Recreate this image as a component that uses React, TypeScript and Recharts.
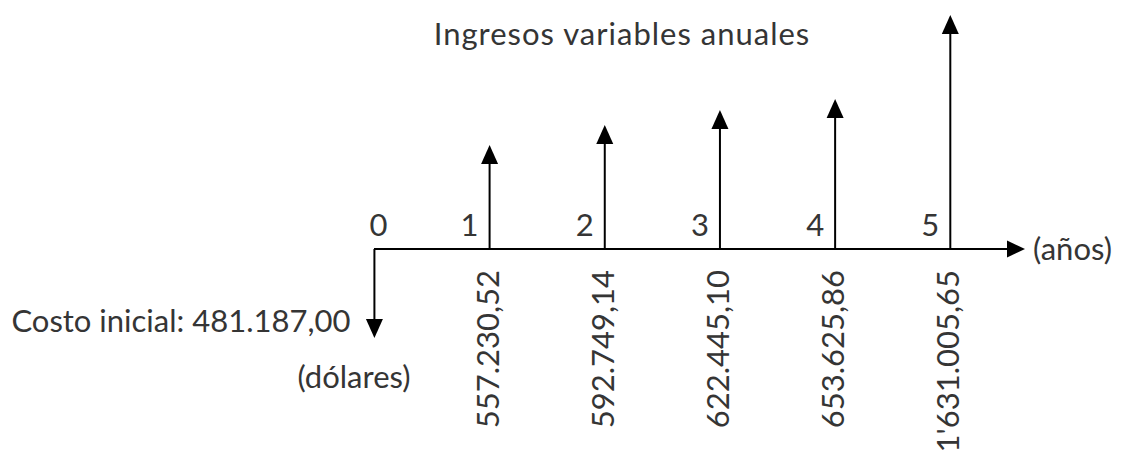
import React from "react"
import {
  ComposedChart,
  Bar,
  XAxis,
  YAxis,
  ReferenceLine,
  ReferenceDot,
  LabelList,
  Label,
} from "recharts"

// cash flow diagram: period 0 is the initial cost, 1..5 are the yearly incomes
const periods = [0, 1, 2, 3, 4, 5]
const periodLabels = ["0", "1", "2", "3", "4", "5"]
const amountLabels = [
  "481.187,00",
  "557.230,52",
  "592.749,14",
  "622.445,10",
  "653.625,86",
  "1'631.005,65",
]
// arrow lengths as drawn in the diagram (schematic, not to scale)
const arrowLengths = [-89, 104, 124, 139, 150, 234]

const data = periods.map((p, i) => ({
  period: p,
  label: periodLabels[i],
  amount: amountLabels[i],
  length: arrowLengths[i],
}))

const FONT = "Lato, 'Open Sans', sans-serif"
const TEXT = "#353535"
const LINE = "#000"
const FONT_SIZE = 31

// bar rect -> vertical arrow starting at the axis
function ArrowShape(props: any) {
  const { x, y, width, height, payload } = props
  const cx = x + width / 2
  const top = Math.min(y, y + height)
  const bottom = Math.max(y, y + height)
  const head = 19
  const half = 8.5

  if (payload.length < 0) {
    return (
      <g>
        <line x1={cx} y1={top} x2={cx} y2={bottom - head + 2} stroke={LINE} strokeWidth={2} />
        <polygon
          points={`${cx - half},${bottom - head} ${cx + half},${bottom - head} ${cx},${bottom}`}
          fill={LINE}
        />
      </g>
    )
  }
  return (
    <g>
      <line x1={cx} y1={bottom} x2={cx} y2={top + head - 2} stroke={LINE} strokeWidth={2} />
      <polygon
        points={`${cx - half},${top + head} ${cx + half},${top + head} ${cx},${top}`}
        fill={LINE}
      />
    </g>
  )
}

function getBox(props: any) {
  const vb = props.viewBox || props
  const cx = vb.x + vb.width / 2
  const top = Math.min(vb.y, vb.y + vb.height)
  const bottom = Math.max(vb.y, vb.y + vb.height)
  return { cx, top, bottom }
}

// period number, sits just above the axis, left of the arrow
function PeriodLabel(props: any) {
  const { value, index } = props
  const { cx, top, bottom } = getBox(props)
  const neg = arrowLengths[index] < 0
  const axisY = neg ? top : bottom
  return (
    <text
      x={neg ? cx + 4 : cx - 20}
      y={axisY - 13}
      textAnchor="middle"
      fontFamily={FONT}
      fontSize={FONT_SIZE}
      fill={TEXT}
    >
      {value}
    </text>
  )
}

// amounts: rotated under the axis for incomes, horizontal for the initial cost
function AmountLabel(props: any) {
  const { value, index } = props
  const { cx, bottom } = getBox(props)
  if (arrowLengths[index] < 0) {
    return (
      <text
        x={cx - 24}
        y={bottom - 6}
        textAnchor="end"
        fontFamily={FONT}
        fontSize={FONT_SIZE}
        fill={TEXT}
      >
        {"Costo inicial: " + value}
      </text>
    )
  }
  const tx = cx - 3
  const ty = bottom + 21
  return (
    <text
      x={tx}
      y={ty}
      transform={`rotate(-90, ${tx}, ${ty})`}
      textAnchor="end"
      dominantBaseline="central"
      fontFamily={FONT}
      fontSize={FONT_SIZE}
      fill={TEXT}
    >
      {value}
    </text>
  )
}

function AxisHead(props: any) {
  const { cx, cy } = props
  return (
    <polygon
      points={`${cx - 12},${cy - 8.5} ${cx - 12},${cy + 8.5} ${cx + 6},${cy}`}
      fill={LINE}
    />
  )
}

export default function App() {
  return (
    <div
      style={{
        position: "absolute",
        left: 0,
        top: 0,
        width: 1123,
        height: 462,
        background: "#fff",
      }}
    >
      <ComposedChart
        width={1123}
        height={462}
        data={data}
        margin={{ top: 9, right: 104, bottom: 13, left: 374 }}
      >
        <XAxis type="number" dataKey="period" domain={[0, 5.6]} hide />
        <YAxis type="number" domain={[-200, 240]} hide />
        <ReferenceLine y={0} stroke={LINE} strokeWidth={2} ifOverflow="visible">
          <Label
            value="(años)"
            position="right"
            offset={14}
            fontFamily={FONT}
            fontSize={FONT_SIZE}
            fill={TEXT}
          />
        </ReferenceLine>
        <ReferenceDot x={5.6} y={0} r={0} shape={AxisHead} ifOverflow="visible" />
        <Bar dataKey="length" barSize={20} shape={ArrowShape} isAnimationActive={false}>
          <LabelList dataKey="label" content={PeriodLabel} />
          <LabelList dataKey="amount" content={AmountLabel} />
        </Bar>
        <text
          x={622}
          y={45}
          textAnchor="middle"
          fontFamily={FONT}
          fontSize={FONT_SIZE}
          letterSpacing={1}
          fill={TEXT}
        >
          Ingresos variables anuales
        </text>
        <text
          x={354}
          y={388}
          textAnchor="middle"
          fontFamily={FONT}
          fontSize={FONT_SIZE}
          fill={TEXT}
        >
          (dólares)
        </text>
      </ComposedChart>
    </div>
  )
}
